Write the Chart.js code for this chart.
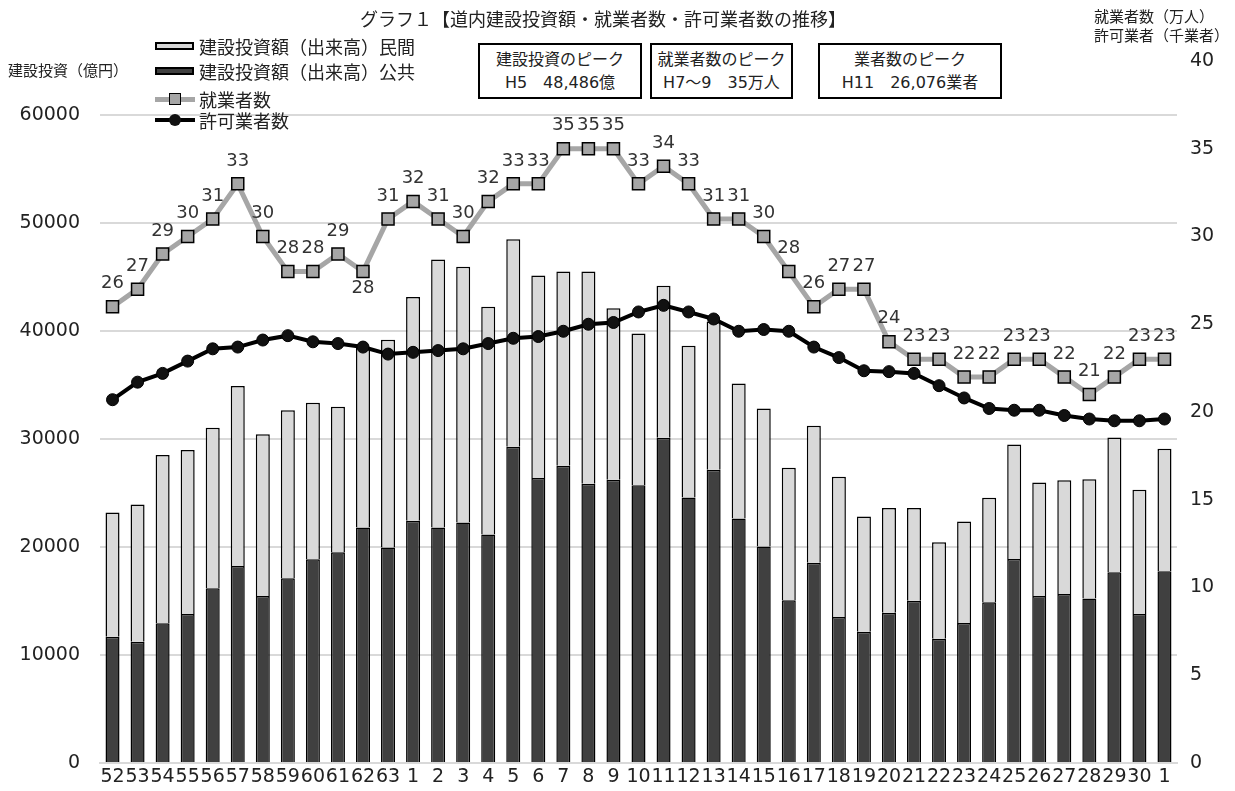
<!DOCTYPE html>
<html lang="ja">
<head>
<meta charset="utf-8">
<title>道内建設投資額・就業者数・許可業者数の推移</title>
<script src="https://cdn.jsdelivr.net/npm/chart.js@4.4.1/dist/chart.umd.min.js"></script>
<style>
  body { margin: 0; background: #fff; color: #222; font-family: "Noto Sans CJK JP", sans-serif; }
  #wrap { position: relative; width: 1235px; height: 791px; overflow: hidden; }
  #chart { position: absolute; left: 0; top: 0; }
  .txt { position: absolute; white-space: nowrap; line-height: 1; }
  .box { position: absolute; top: 43px; height: 56px; border: 2px solid #000; background: #fff;
         box-sizing: border-box; text-align: center; font-size: 16px; line-height: 23px; padding-top: 3px;
         font-family: "DejaVu Sans", "Noto Sans CJK JP", sans-serif; }
  .lg { position: absolute; left: 155px; font-size: 18px; display: flex; align-items: center; height: 24px; white-space: nowrap; }
  .sw { display: inline-block; width: 39px; height: 8px; border: 2px solid #000; box-sizing: border-box; margin-right: 5px; }
  .ln { position: relative; display: inline-block; width: 40px; height: 24px; margin-right: 4px; }
  .ln i { position: absolute; left: 0; right: 0; top: 50%; }
  .ln b { position: absolute; left: 50%; top: 50%; box-sizing: border-box; }
</style>
</head>
<body>
<div id="wrap">
  <canvas id="chart" width="1235" height="791"></canvas>

  <div class="txt" style="left:360px;top:9px;font-size:18px;">グラフ１【道内建設投資額・就業者数・許可業者数の推移】</div>
  <div class="txt" style="left:8px;top:62px;font-size:15px;">建設投資（億円）</div>
  <div class="txt" style="left:1094px;top:8px;font-size:15px;">就業者数（万人）</div>
  <div class="txt" style="left:1094px;top:27px;font-size:15px;">許可業者（千業者）</div>

  <div class="box" style="left:478px;width:164px;">建設投資のピーク<br>H5　48,486億</div>
  <div class="box" style="left:650px;width:143px;">就業者数のピーク<br>H7～9　35万人</div>
  <div class="box" style="left:818px;width:184px;">業者数のピーク<br>H11　26,076業者</div>

  <div class="lg" style="top:34px;"><span class="sw" style="background:#d9d9d9;"></span>建設投資額（出来高）民間</div>
  <div class="lg" style="top:59px;"><span class="sw" style="background:#404040;"></span>建設投資額（出来高）公共</div>
  <div class="lg" style="top:87px;"><span class="ln"><i style="height:5px;margin-top:-2.5px;background:#a6a6a6;"></i><b style="width:12px;height:12px;margin:-6px 0 0 -6px;background:#a6a6a6;border:1.5px solid #000;"></b></span>就業者数</div>
  <div class="lg" style="top:108px;"><span class="ln"><i style="height:4px;margin-top:-2px;background:#000;"></i><b style="width:12px;height:12px;margin:-6px 0 0 -6px;background:#111;border-radius:50%;"></b></span>許可業者数</div>
</div>

<script>
// 年度（S52～S63, H1～H30, R1）
var years = ['52', '53', '54', '55', '56', '57', '58', '59', '60', '61', '62', '63',
  '1', '2', '3', '4', '5', '6', '7', '8', '9', '10', '11', '12', '13', '14', '15',
  '16', '17', '18', '19', '20', '21', '22', '23', '24', '25', '26', '27', '28', '29', '30', '1'];

// 建設投資額（出来高） 公共・民間（億円）
var investPublic = [11700, 11230, 12930, 13800, 16180, 18250, 15470, 17100, 18860, 19510, 21800, 19950,
  22420, 21800, 22260, 21150, 29280, 26400, 27520, 25850, 26220, 25720, 30110, 24580, 27150, 22640, 20040,
  15060, 18550, 13520, 12160, 13920, 15030, 11510, 12960, 14880, 18900, 15470, 15650, 15220, 17660, 13800, 17750];
var investPrivate = [11500, 12700, 15600, 15170, 14860, 16660, 14960, 15570, 14490, 13470, 16690, 19250,
  20730, 24810, 23700, 21100, 19210, 18730, 17980, 19650, 15880, 14060, 14090, 14060, 13720, 12510, 12790,
  12270, 12670, 12980, 10660, 9700, 8590, 8930, 9390, 9670, 10600, 10510, 10540, 11060, 12480, 11500, 11340];

// 就業者数（万人）
var workers = [26, 27, 29, 30, 31, 33, 30, 28, 28, 29, 28, 31,
  32, 31, 30, 32, 33, 33, 35, 35, 35, 33, 34, 33, 31, 31, 30,
  28, 26, 27, 27, 24, 23, 23, 22, 22, 23, 23, 22, 21, 22, 23, 23];

// 許可業者数（千業者）
var licensed = [20.7, 21.7, 22.2, 22.9, 23.6, 23.7, 24.1, 24.35, 24.0, 23.9, 23.7, 23.3,
  23.4, 23.5, 23.6, 23.9, 24.2, 24.3, 24.6, 25.0, 25.1, 25.7, 26.076, 25.7, 25.3, 24.6, 24.7,
  24.6, 23.7, 23.1, 22.35, 22.3, 22.2, 21.5, 20.8, 20.2, 20.1, 20.1, 19.8, 19.6, 19.5, 19.5, 19.6];

// 目盛
var leftTicks = [0, 10000, 20000, 30000, 40000, 50000, 60000];
var rightTicks = [0, 5, 10, 15, 20, 25, 30, 35, 40];

// 就業者数のラベルを下に出す点
var labelBelow = [10];

var digitFont = '"DejaVu Sans", "Noto Sans CJK JP", sans-serif';

var workerLabels = {
  id: 'workerLabels',
  afterDatasetsDraw: function (chart) {
    var meta = chart.getDatasetMeta(2);
    var ctx = chart.ctx;
    ctx.save();
    ctx.font = '18px ' + digitFont;
    ctx.fillStyle = '#333';
    ctx.textAlign = 'center';
    ctx.textBaseline = 'middle';
    meta.data.forEach(function (pt, i) {
      var dy = labelBelow.indexOf(i) >= 0 ? 17 : -23;
      ctx.fillText(String(workers[i]), pt.x, pt.y + dy);
    });
    ctx.restore();
  }
};

function plain(v) { return String(v); }

// 縦軸のラベル余白がプロット領域を縮めないようにする
function fixVertical(width) {
  return function (s) {
    s.width = width;
    s.paddingTop = 0;
    s.paddingBottom = 0;
  };
}

var ctx = document.getElementById('chart').getContext('2d');
var chart = new Chart(ctx, {
  type: 'bar',
  data: {
    labels: years,
    datasets: [
      {
        label: '建設投資額（出来高）公共',
        data: investPublic,
        backgroundColor: '#404040',
        borderColor: '#000',
        borderWidth: 1.5,
        yAxisID: 'y',
        stack: 'invest',
        order: 3
      },
      {
        label: '建設投資額（出来高）民間',
        data: investPrivate,
        backgroundColor: '#d9d9d9',
        borderColor: '#000',
        borderWidth: 1.5,
        yAxisID: 'y',
        stack: 'invest',
        order: 3
      },
      {
        type: 'line',
        label: '就業者数',
        data: workers,
        borderColor: '#a6a6a6',
        borderWidth: 5,
        pointStyle: 'rect',
        pointRadius: 8.5,
        pointBackgroundColor: '#a6a6a6',
        pointBorderColor: '#000',
        pointBorderWidth: 1.5,
        yAxisID: 'y1',
        order: 1
      },
      {
        type: 'line',
        label: '許可業者数',
        data: licensed,
        borderColor: '#000',
        borderWidth: 4,
        pointStyle: 'circle',
        pointRadius: 6,
        pointBackgroundColor: '#111',
        pointBorderColor: '#000',
        pointBorderWidth: 1,
        yAxisID: 'y1',
        order: 2
      }
    ]
  },
  options: {
    responsive: false,
    animation: false,
    devicePixelRatio: 1,
    layout: { padding: { top: 61, left: 0, right: 0, bottom: 0 } },
    plugins: {
      legend: { display: false },
      tooltip: { enabled: false },
      title: { display: false }
    },
    scales: {
      x: {
        stacked: true,
        grid: { display: false, drawTicks: false },
        border: { display: true, color: '#d9d9d9', width: 2 },
        ticks: { autoSkip: false, maxRotation: 0, padding: 3, color: '#222', font: { family: digitFont, size: 19 } },
        afterFit: function (s) { s.height = 28; }
      },
      y: {
        position: 'left',
        stacked: true,
        min: 0,
        max: 65000,
        grid: { color: '#d9d9d9', lineWidth: 2, drawTicks: false },
        border: { display: false },
        ticks: { padding: 20, color: '#222', font: { family: digitFont, size: 19 }, callback: plain },
        afterBuildTicks: function (s) { s.ticks = leftTicks.map(function (v) { return { value: v }; }); },
        afterFit: fixVertical(100)
      },
      y1: {
        position: 'right',
        min: 0,
        max: 40,
        grid: { display: false, drawTicks: false },
        border: { display: false },
        ticks: { padding: 13, color: '#222', font: { family: digitFont, size: 19 }, callback: plain },
        afterBuildTicks: function (s) { s.ticks = rightTicks.map(function (v) { return { value: v }; }); },
        afterFit: fixVertical(58)
      }
    },
    datasets: {
      bar: { barPercentage: 0.56, categoryPercentage: 1 }
    }
  },
  plugins: [workerLabels]
});
</script>
</body>
</html>
